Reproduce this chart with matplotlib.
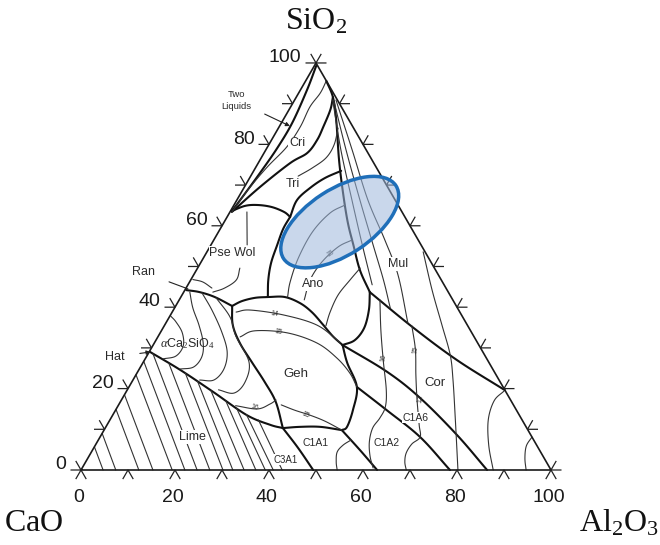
import numpy as np
import matplotlib
matplotlib.use("Agg")
import matplotlib.pyplot as plt
from matplotlib.patches import Ellipse

plt.rcParams['font.family'] = ['Liberation Sans', 'DejaVu Sans']
plt.rcParams['mathtext.fontset'] = 'custom'
plt.rcParams['mathtext.rm'] = 'Liberation Serif'
plt.rcParams['mathtext.it'] = 'Liberation Serif:italic'
plt.rcParams['mathtext.bf'] = 'Liberation Serif:bold'

# ---------------- data: compositions as (Al2O3 wt%, SiO2 wt%) ----------------
tick_values = [0, 10, 20, 30, 40, 50, 60, 70, 80, 90, 100]
label_values = [0, 20, 40, 60, 80, 100]

# main phase boundaries (thick)
two_liquid = [(0.4, 99.3), (1.4, 93.4), (2.3, 85.3), (2.2, 79.0), (1.6, 73.0), (0.8, 67.0), (0.3, 63.6)]
cri_tri = [(7.8, 91.6), (8.8, 88.5), (9.4, 84.3), (9.7, 81.1), (9.2, 77.9), (6.8, 75.4), (3.3, 69.5), (0.4, 63.4)]
tri_mul = [(4.4, 95.6), (7.8, 91.6), (11.3, 86.0), (16.8, 76.2), (21.7, 68.1), (26.3, 60.9),
           (30.3, 55.3), (34.8, 49.1), (39.6, 43.7)]
mul_cor = [(39.6, 43.7), (53.0, 35.1), (66.5, 27.0), (80.4, 19.6)]
ano_cor = [(39.6, 43.7), (41.6, 39.3), (42.8, 34.9), (42.3, 31.9), (40.3, 30.7)]
cor_c1a6 = [(40.3, 30.7), (53.1, 24.1), (63.3, 17.7), (75.7, 8.6), (86.4, 0.0)]
geh_right = [(40.3, 30.7), (43.5, 26.3), (48.5, 20.4), (50.5, 14.7), (51.3, 10.6), (50.6, 9.8)]
c1a6_c1a2 = [(48.5, 20.4), (57.7, 14.7), (68.1, 8.1), (78.5, 0.0)]
c1a2_c1a1 = [(50.6, 9.8), (56.9, 4.9), (63.0, 0.0)]
tri_psewol = [(0.2, 63.6), (2.5, 64.9), (5.1, 65.1), (8.3, 64.6), (11.5, 63.4), (13.4, 62.2)]
psewol_ano = [(13.4, 62.2), (13.4, 59.2), (14.1, 55.3), (15.0, 50.9), (16.5, 46.7), (18.5, 42.5)]
tri_ano = [(13.4, 62.2), (12.8, 66.3), (14.1, 69.3), (16.0, 71.7), (18.6, 73.5)]
psewol_geh = [(18.5, 42.5), (15.9, 42.3), (13.5, 41.5), (12.0, 40.3)]
psewol_c2s = [(12.0, 40.3), (7.2, 42.5), (3.4, 43.7), (0.3, 44.2)]
ano_geh = [(18.5, 42.5), (22.1, 42.5), (26.1, 41.0), (29.7, 38.8), (33.4, 35.9), (37.1, 32.9), (40.3, 30.7)]
c2s_geh = [(12.0, 40.3), (14.5, 35.6), (18.2, 31.2), (23.1, 26.5), (28.3, 21.6), (33.1, 16.7), (37.8, 10.3)]
lime_c2s = [(0.2, 29.0), (8.8, 24.6), (18.5, 19.2), (28.5, 13.5), (34.7, 11.1), (37.8, 10.3)]
geh_c1a1 = [(37.8, 10.3), (41.3, 10.6), (45.6, 10.6), (50.6, 9.8)]
c3a_c1a1 = [(37.8, 10.3), (43.5, 5.4), (49.4, 0.0)]

# liquidus isotherms (thin)
cri_iso = [(4.4, 95.6), (4.6, 92.6), (4.1, 89.2), (4.5, 84.3), (4.1, 79.4), (2.4, 74.4), (1.1, 68.8), (0.4, 63.4)]
tri_iso = [(12.7, 84.0), (13.9, 79.9), (13.8, 76.7), (12.1, 74.2), (10.1, 72.2)]
mul_iso1 = [(8.1, 90.9), (16.0, 78.6), (24.5, 66.3), (32.2, 55.3), (39.2, 45.5)]
mul_iso2 = [(8.3, 90.9), (17.1, 78.6), (26.2, 66.3), (34.5, 55.3), (41.0, 46.7), (45.9, 39.8)]
mul_iso3 = [(8.8, 90.9), (18.4, 78.6), (27.9, 66.3), (36.4, 56.5), (43.5, 47.9), (51.5, 36.1)]
cor_iso_c = [(46.0, 53.6), (52.6, 44.2), (59.0, 35.6), (64.4, 28.3), (68.1, 22.1), (73.5, 12.3), (80.2, 0.0)]
cor_iso_a = [(42.7, 41.8), (46.6, 34.4), (50.8, 27.0), (55.1, 19.7), (57.0, 15.5), (57.2, 12.8),
             (56.9, 10.3), (57.9, 6.9), (59.8, 3.4), (61.9, 0.5)]
cor_iso_b = [(52.7, 35.4), (56.4, 29.5), (59.6, 23.3), (62.9, 17.2), (66.4, 11.1), (68.1, 8.1),
             (67.2, 6.4), (67.1, 4.2), (67.9, 2.0), (69.2, 0.0)]
cor_iso_d = [(80.3, 19.4), (79.4, 17.0), (80.5, 12.3), (83.7, 6.1), (87.7, 0.0)]
cor_iso_e = [(91.9, 8.1), (91.8, 5.9), (93.0, 2.9), (94.7, 0.0)]
c1a1_iso = [(53.8, 7.4), (52.7, 6.1), (52.3, 4.4), (53.3, 2.0), (54.5, 0.0)]
ano_iso1 = [(23.6, 65.1), (21.4, 63.1), (20.0, 58.5), (20.2, 52.1), (21.4, 46.2), (22.7, 42.5)]
ano_iso2 = [(29.4, 56.5), (27.3, 54.8), (25.7, 51.1), (25.4, 46.7), (26.6, 41.8)]
ano_iso3 = [(34.6, 49.6), (33.9, 46.7), (33.2, 43.0), (33.6, 38.8), (34.4, 35.4)]
geh_iso14 = [(13.6, 38.8), (16.3, 39.3), (24.0, 38.1), (32.4, 35.6), (39.5, 31.3)]
geh_iso15 = [(17.5, 32.7), (19.9, 34.2), (27.0, 33.7), (34.6, 31.2), (40.7, 27.5), (45.3, 23.8), (48.5, 20.4)]
geh_iso15b = [(34.6, 16.0), (38.1, 14.7), (41.9, 13.5), (45.9, 12.0), (50.6, 9.8)]
c2s_arc0 = [(3.8, 27.3), (6.2, 28.0), (6.5, 30.5), (4.7, 33.7), (2.0, 36.4), (0.2, 37.8)]
c2s_arc1 = [(8.7, 24.8), (11.3, 25.3), (11.8, 27.8), (10.4, 31.2), (7.3, 35.6), (3.9, 39.8), (1.3, 43.7)]
c2s_arc2 = [(14.2, 22.1), (17.2, 22.1), (18.0, 24.8), (16.6, 29.0), (13.0, 33.9), (8.2, 39.3), (4.0, 43.5)]
c2s_arc3 = [(19.4, 19.7), (23.1, 18.9), (24.1, 21.6), (22.5, 26.5), (16.5, 32.9), (12.9, 37.6), (7.6, 42.3)]
c2s_arc4 = [(25.0, 15.8), (30.0, 15.0), (32.1, 16.2), (32.9, 17.2)]
psewol_tie = [(3.6, 63.4), (7.7, 55.3)]
psewol_curve = [(9.0, 49.6), (9.7, 46.7), (8.2, 44.7), (6.2, 43.7)]
ran_line = [(0.4, 46.8), (2.8, 46.2), (5.5, 44.7)]

# lime-field isotherms: upper end (Al2O3, SiO2) and Al2O3 where they meet the base
lime_top = [(0.0, 5.7), (0.0, 9.0), (0.0, 14.9), (0.0, 18.5), (0.0, 23.4), (0.0, 26.7), (1.0, 28.6),
            (5.6, 26.2), (10.3, 23.8), (13.9, 21.8), (17.9, 19.5), (22.3, 17.0), (25.5, 15.2),
            (28.4, 13.6), (31.6, 12.3)]
lime_base_al = [4.7, 7.4, 12.3, 15.3, 19.4, 22.1, 24.7, 27.4, 30.2, 32.3, 34.7, 37.2, 39.2, 40.9, 42.8]

# phase field labels
field_names = ["Cri", "Tri", "Pse Wol", "Ano", "Mul", "Geh", "Cor", "Lime", "C1A1", "C1A2", "C1A6", "C3A1"]
field_al = [5.8, 10.0, 5.6, 26.5, 42.2, 34.0, 64.6, 19.6, 46.5, 61.8, 64.7, 42.2]
field_si = [80.3, 70.3, 53.3, 45.7, 50.6, 23.6, 21.4, 8.1, 6.6, 6.6, 12.8, 2.5]
field_size = [9, 9, 9, 9, 9, 9.5, 9.5, 9, 7.5, 7.5, 7.5, 7]

# small isotherm values written on the curves
iso_text = ["14", "15", "16", "15", "15", "16", "15", "12"]
iso_al = [22.0, 25.0, 29.3, 41.0, 26.6, 50.6, 56.4, 63.5]
iso_si = [38.4, 33.9, 15.4, 13.5, 53.3, 27.5, 29.5, 17.5]
iso_rot = [-8, -8, -15, -22, 35, 80, 80, 80]

# highlighted composition window (blue ellipse)
ellipse_center = (24.6, 60.9)
ellipse_width = 28.5
ellipse_height = 14.0
ellipse_angle = 33

# ---------------- drawing ----------------
SQ = np.sqrt(3) / 2


def tern(al, si):
    al = np.asarray(al, float)
    si = np.asarray(si, float)
    return al + si / 2, si * SQ


def smooth(x, y, n=12):
    x = np.asarray(x, float); y = np.asarray(y, float)
    if len(x) < 3:
        return x, y
    px = np.concatenate([[2 * x[0] - x[1]], x, [2 * x[-1] - x[-2]]])
    py = np.concatenate([[2 * y[0] - y[1]], y, [2 * y[-1] - y[-2]]])
    t = np.linspace(0, 1, n, endpoint=False)[:, None]
    xs, ys = [], []
    for i in range(1, len(px) - 2):
        p0, p1, p2, p3 = px[i - 1], px[i], px[i + 1], px[i + 2]
        q0, q1, q2, q3 = py[i - 1], py[i], py[i + 1], py[i + 2]
        xs.append(0.5 * ((2 * p1) + (-p0 + p2) * t + (2 * p0 - 5 * p1 + 4 * p2 - p3) * t ** 2 + (-p0 + 3 * p1 - 3 * p2 + p3) * t ** 3))
        ys.append(0.5 * ((2 * q1) + (-q0 + q2) * t + (2 * q0 - 5 * q1 + 4 * q2 - q3) * t ** 2 + (-q0 + 3 * q1 - 3 * q2 + q3) * t ** 3))
    xs = np.concatenate([np.ravel(v) for v in xs] + [[x[-1]]])
    ys = np.concatenate([np.ravel(v) for v in ys] + [[y[-1]]])
    return xs, ys


fig = plt.figure(figsize=(6.6, 5.45), dpi=100)
ax = fig.add_axes([0, 0, 1, 1])
ax.set_xlim(-17.234, 123.19)
ax.set_ylim(-15.957, 100.0)
ax.axis('off')


def draw(line, lw, color, curved=True):
    a, s = zip(*line)
    x, y = tern(a, s)
    if curved:
        x, y = smooth(x, y)
    ax.plot(x, y, color=color, lw=lw, solid_capstyle='round', solid_joinstyle='round', zorder=2)


# triangle frame
fx, fy = tern([0, 100, 0, 0], [0, 0, 100, 0])
ax.plot(fx, fy, color='#1a1a1a', lw=1.2, zorder=3)

# ticks
L = 2.1
for v in tick_values:
    bx, by = tern(v, 0)
    ax.plot([bx - L * 0.5, bx, bx + L * 0.5], [by - L * SQ, by, by - L * SQ], color='#222', lw=0.9, zorder=3)
    lx, ly = tern(0, v)
    ax.plot([lx - L, lx, lx - L * 0.5], [ly, ly, ly + L * SQ], color='#222', lw=0.9, zorder=3)
    rx, ry = tern(100 - v, v)
    ax.plot([rx + L, rx, rx + L * 0.5], [ry, ry, ry + L * SQ], color='#222', lw=0.9, zorder=3)

for v in label_values:
    bx, by = tern(v, 0)
    ax.annotate(str(v), (bx, by), xytext=(-1.5, -20), textcoords='offset points',
                ha='center', va='center', fontsize=14, color='#1a1a1a')
    lx, ly = tern(0, v)
    ax.annotate(str(v), (lx, ly), xytext=(-10.5, 3.8), textcoords='offset points',
                ha='right', va='center', fontsize=14, color='#1a1a1a')

# corner labels
ax.annotate(r'$\mathrm{SiO_2}$', tern(0, 100), xytext=(0, 30), textcoords='offset points',
            ha='center', va='center', fontsize=23, color='#111')
ax.annotate(r'$\mathrm{CaO}$', tern(0, 0), xytext=(-34, -38), textcoords='offset points',
            ha='center', va='center', fontsize=23, color='#111')
ax.annotate(r'$\mathrm{Al_2O_3}$', tern(100, 0), xytext=(49, -38), textcoords='offset points',
            ha='center', va='center', fontsize=23, color='#111')

thick = [two_liquid, cri_tri, tri_mul, mul_cor, ano_cor, cor_c1a6, geh_right, c1a6_c1a2, c1a2_c1a1,
         tri_psewol, psewol_ano, tri_ano, psewol_geh, psewol_c2s, ano_geh, c2s_geh, lime_c2s,
         geh_c1a1, c3a_c1a1]
for ln in thick:
    draw(ln, 1.5, '#111111')

thin = [cri_iso, tri_iso, mul_iso1, mul_iso2, mul_iso3, cor_iso_c, cor_iso_a, cor_iso_b, cor_iso_d,
        cor_iso_e, c1a1_iso, ano_iso1, ano_iso2, ano_iso3, geh_iso14, geh_iso15, geh_iso15b,
        c2s_arc0, c2s_arc1, c2s_arc2, c2s_arc3, c2s_arc4, psewol_tie, psewol_curve, ran_line]
for ln in thin:
    draw(ln, 0.8, '#333333')

for (ta, ts), ba in zip(lime_top, lime_base_al):
    draw([(ta, ts), (ba, 0.0)], 0.8, '#333333', curved=False)

# field labels
for name, a, s, fs in zip(field_names, field_al, field_si, field_size):
    x, y = tern(a, s)
    ax.text(x, y, name, ha='center', va='center', fontsize=fs, color='#2a2a2a', zorder=4,
            bbox=dict(boxstyle='square,pad=0.05', fc='white', ec='none'))

x, y = tern(7.1, 31.0)
ax.text(x, y, r'$\alpha$Ca$_2$SiO$_4$', ha='center', va='center', fontsize=9, color='#2a2a2a', zorder=4)

# labels with leader lines
ax.annotate('Two\nLiquids', xy=tern(2.2, 84.5), xytext=tern(-12.2, 90.7), fontsize=6.8, color='#2a2a2a',
            ha='center', va='center', linespacing=1.4,
            arrowprops=dict(arrowstyle='-|>', color='#222', lw=0.8, mutation_scale=6, shrinkA=8, shrinkB=0))
ax.annotate('Ran', xy=tern(0.5, 44.5), xytext=tern(-11.1, 48.6), fontsize=9, color='#2a2a2a',
            ha='center', va='center',
            arrowprops=dict(arrowstyle='-', color='#222', lw=0.8, shrinkA=9, shrinkB=0))
ax.annotate('Hat', xy=tern(0.3, 29.0), xytext=tern(-6.7, 27.8), fontsize=9, color='#2a2a2a',
            ha='center', va='center',
            arrowprops=dict(arrowstyle='-|>', color='#222', lw=0.8, mutation_scale=6, shrinkA=9, shrinkB=0))

for t, a, s, r in zip(iso_text, iso_al, iso_si, iso_rot):
    x, y = tern(a, s)
    ax.text(x, y, t, ha='center', va='center', fontsize=5, rotation=r, color='#333', zorder=4)

# blue ellipse
ex, ey = tern(*ellipse_center)
ax.add_patch(Ellipse((ex, ey), ellipse_width, ellipse_height, angle=ellipse_angle,
                     facecolor='#9db7dc', alpha=0.55, edgecolor='none', zorder=5))
ax.add_patch(Ellipse((ex, ey), ellipse_width, ellipse_height, angle=ellipse_angle,
                     facecolor='none', edgecolor='#1f6fb9', lw=2.5, zorder=6))

fig.savefig('out.png', dpi=100)
